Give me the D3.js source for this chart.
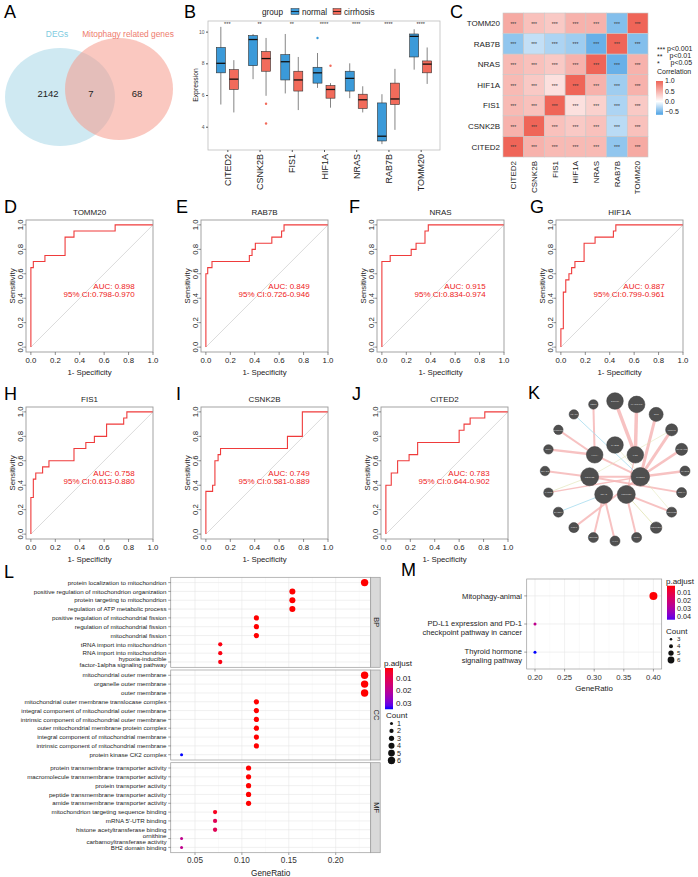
<!DOCTYPE html>
<html>
<head>
<meta charset="utf-8">
<script src="https://cdn.jsdelivr.net/npm/d3@7"></script>
<style>
  body { margin: 0; background: #fff; }
  svg { display: block; font-family: "Liberation Sans", Arial, sans-serif; }
</style>
</head>
<body>
<div id="fig"></div>
<script>
// ---------------- data ----------------
const vennLabels = ["DEGs", "Mitophagy related genes"];
const vennCounts = [2142, 7, 68];

const genes = ["CITED2", "CSNK2B", "FIS1", "HIF1A", "NRAS", "RAB7B", "TOMM20"];
const groups = ["normal", "cirrhosis"];
// lower whisker, q1, median, q3, upper whisker
const normalBox = [
  [5.4, 7.4, 8.0, 9.0, 10.3],
  [7.0, 7.85, 9.5, 9.75, 9.85],
  [6.1, 6.95, 8.1, 8.55, 9.85],
  [6.45, 6.75, 7.4, 7.75, 8.65],
  [5.8, 6.25, 7.05, 7.5, 8.0],
  [2.9, 3.1, 3.4, 5.5, 6.05],
  [7.6, 8.4, 9.7, 9.85, 10.15]
];
const cirrhosisBox = [
  [4.9, 6.35, 7.0, 7.6, 8.2],
  [5.95, 7.5, 8.3, 8.75, 9.6],
  [5.05, 6.25, 6.95, 7.5, 8.4],
  [5.2, 5.8, 6.35, 6.6, 6.75],
  [4.9, 5.15, 5.7, 6.05, 6.55],
  [3.8, 5.4, 5.75, 6.75, 7.65],
  [6.7, 7.4, 7.95, 8.15, 9.0]
];
const normalOut = [[], [], [], [9.6], [], [], []];
const cirrhosisOut = [[], [5.45, 4.2], [], [7.85], [], [], []];
const boxSignif = ["***", "**", "**", "****", "****", "****", "****"];
const boxTicks = [4, 6, 8, 10];

const corRows = ["TOMM20", "RAB7B", "NRAS", "HIF1A", "FIS1", "CSNK2B", "CITED2"];
const corCols = ["CITED2", "CSNK2B", "FIS1", "HIF1A", "NRAS", "RAB7B", "TOMM20"];
const corValues = [
  [0.55, 0.40, 0.35, 0.50, 0.50, -0.45, 1.00],
  [-0.40, -0.22, -0.30, -0.35, -0.55, 1.00, -0.45],
  [0.45, 0.40, 0.35, 0.50, 1.00, -0.55, 0.50],
  [0.45, 0.35, 0.20, 1.00, 0.50, -0.35, 0.50],
  [0.45, 0.40, 1.00, 0.20, 0.30, -0.30, 0.35],
  [0.50, 1.00, 0.40, 0.35, 0.40, -0.25, 0.40],
  [1.00, 0.50, 0.45, 0.45, 0.45, -0.40, 0.55]
];
const corMark = "***";
const corLegendStars = ["***", "**", "*"];
const corLegendText = ["p<0.001", "p<0.01", "p<0.05"];
const corTicks = [1.0, 0.5, 0.0, -0.5];

const rocGenes = ["TOMM20", "RAB7B", "NRAS", "HIF1A", "FIS1", "CSNK2B", "CITED2"];
const rocTags = ["D", "E", "F", "G", "H", "I", "J"];
const rocAuc = ["0.898", "0.849", "0.915", "0.887", "0.758", "0.749", "0.783"];
const rocCi = ["0.798-0.970", "0.726-0.946", "0.834-0.974", "0.799-0.961", "0.613-0.880", "0.581-0.889", "0.644-0.902"];
// [1 - specificity, sensitivity] at each step
const rocPoints = [
  [[0,0],[0,0.65],[0.02,0.70],[0.115,0.75],[0.28,0.90],[0.353,0.95],[0.69,1],[1,1]],
  [[0,0],[0,0.60],[0.015,0.65],[0.05,0.70],[0.356,0.75],[0.378,0.80],[0.405,0.85],[0.54,0.90],[0.62,0.95],[0.64,1],[1,1]],
  [[0,0],[0,0.70],[0.068,0.75],[0.24,0.80],[0.28,0.85],[0.353,0.95],[0.38,1],[1,1]],
  [[0,0],[0,0.15],[0.02,0.45],[0.04,0.55],[0.066,0.60],[0.088,0.65],[0.115,0.70],[0.19,0.85],[0.28,0.90],[0.43,0.95],[0.45,1],[1,1]],
  [[0,0],[0,0.30],[0.02,0.45],[0.04,0.50],[0.096,0.55],[0.148,0.60],[0.353,0.70],[0.45,0.75],[0.52,0.80],[0.62,0.90],[0.76,0.95],[0.786,1],[1,1]],
  [[0,0],[0,0.35],[0.055,0.40],[0.074,0.60],[0.10,0.65],[0.12,0.70],[0.668,0.80],[0.79,1],[1,1]],
  [[0,0],[0,0.40],[0.044,0.50],[0.096,0.60],[0.19,0.65],[0.26,0.75],[0.60,0.85],[0.64,0.90],[0.69,0.95],[0.81,1],[1,1]]
];
const rocTicks = [0, 0.2, 0.4, 0.6, 0.8, 1.0];

const hubGenes = ["RAB7B", "FIS1", "CITED2", "TOMM20", "NRAS", "CSNK2B", "HIF1A"];
const hubScore = [0.80, 0.80, 1.00, 0.94, 0.94, 0.94, 0.80];
const ringGenes = ["DNM1L", "MARCHF5", "OTC", "LRRK2", "ARHGAP26", "RHOT2", "ZNF44", "TOMM22", "TOMM20L", "PLD6",
                   "VHLL", "EGLN3", "UCP1", "DHODH", "LARS2", "SMAD3", "RPL4", "TP53INP1", "HDAC6", "NBR1"];
const ringScore = [0.80, 0.80, 0.57, 0.42, 0.42, 0.29, 0.29, 0.29, 0.38, 0.29,
                   0.29, 0.29, 0.29, 0.29, 0.26, 0.26, 0.26, 0.26, 0.26, 0.26];
// source, target, kind, weight
const netEdges = [
  ["FIS1","DNM1L","co",3.5], ["FIS1","MARCHF5","co",3.5], ["CITED2","OTC","co",3], ["CITED2","LRRK2","co",3],
  ["CITED2","ARHGAP26","co",2.5], ["CITED2","RHOT2","co",2.5], ["CSNK2B","ZNF44","co",2], ["TOMM20","TOMM22","co",2],
  ["TOMM20","PLD6","co",2], ["NRAS","VHLL","co",2], ["NRAS","EGLN3","co",2], ["CITED2","UCP1","co",2],
  ["CSNK2B","SMAD3","co",2], ["HIF1A","RPL4","co",2.5], ["HIF1A","TP53INP1","co",2], ["HIF1A","NBR1","co",2],
  ["HIF1A","CITED2","co",2], ["CSNK2B","CITED2","co",2], ["CITED2","LARS2","co",1.5], ["FIS1","TOMM20","co",1.2],
  ["HDAC6","CITED2","pw",0.8], ["NRAS","DHODH","pw",0.8],
  ["TOMM20","TOMM20L","ph",0.8], ["CSNK2B","LARS2","ph",0.6], ["RAB7B","TOMM22","ph",0.5], ["LRRK2","CSNK2B","ph",0.5]
];

const bpTerms = ["protein localization to mitochondrion", "positive regulation of mitochondrion organization",
  "protein targeting to mitochondrion", "regulation of ATP metabolic process",
  "positive regulation of mitochondrial fission", "regulation of mitochondrial fission", "mitochondrial fission",
  "tRNA import into mitochondrion", "RNA import into mitochondrion", "hypoxia-inducible\nfactor-1alpha signaling pathway"];
const bpRatio = [0.2308, 0.1538, 0.1538, 0.1538, 0.1154, 0.1154, 0.1154, 0.0769, 0.0769, 0.0769];
const bpCount = [6, 4, 4, 4, 3, 3, 3, 2, 2, 2];
const bpPadj = [0.002, 0.002, 0.002, 0.002, 0.002, 0.002, 0.002, 0.003, 0.003, 0.003];

const ccTerms = ["mitochondrial outer membrane", "organelle outer membrane", "outer membrane",
  "mitochondrial outer membrane translocase complex", "integral component of mitochondrial outer membrane",
  "intrinsic component of mitochondrial outer membrane", "outer mitochondrial membrane protein complex",
  "integral component of mitochondrial membrane", "intrinsic component of mitochondrial membrane", "protein kinase CK2 complex"];
const ccRatio = [0.2308, 0.2308, 0.2308, 0.1154, 0.1154, 0.1154, 0.1154, 0.1154, 0.1154, 0.0357];
const ccCount = [6, 6, 6, 3, 3, 3, 3, 3, 3, 1];
const ccPadj = [0.002, 0.002, 0.002, 0.002, 0.002, 0.002, 0.002, 0.002, 0.002, 0.035];

const mfTerms = ["protein transmembrane transporter activity", "macromolecule transmembrane transporter activity",
  "protein transporter activity", "peptide transmembrane transporter activity", "amide transmembrane transporter activity",
  "mitochondrion targeting sequence binding", "mRNA 5'-UTR binding", "histone acetyltransferase binding",
  "ornithine\ncarbamoyltransferase activity", "BH2 domain binding"];
const mfRatio = [0.1071, 0.1071, 0.1071, 0.1071, 0.1071, 0.0714, 0.0714, 0.0714, 0.0357, 0.0357];
const mfCount = [3, 3, 3, 3, 3, 2, 2, 2, 1, 1];
const mfPadj = [0.002, 0.002, 0.002, 0.002, 0.002, 0.004, 0.011, 0.011, 0.019, 0.019];

const goTicks = [0.05, 0.10, 0.15, 0.20];
const goLegendP = [0.01, 0.02, 0.03];
const goLegendCount = [1, 2, 3, 4, 5, 6];

const keggTerms = ["Mitophagy-animal", "PD-L1 expression and PD-1\ncheckpoint pathway in cancer", "Thyroid hormone\nsignaling pathway"];
const keggRatio = [0.40, 0.20, 0.20];
const keggCount = [6, 3, 3];
const keggPadj = [0.002, 0.024, 0.045];
const keggTicks = [0.20, 0.25, 0.30, 0.35, 0.40];
const keggLegendP = [0.01, 0.02, 0.03, 0.04];
const keggLegendCount = [3, 4, 5, 6];

// ---------------- svg ----------------
const svg = d3.select("#fig").append("svg").attr("width", 698).attr("height", 877);
svg.append("rect").attr("width", 698).attr("height", 877).attr("fill", "#fff");
const defs = svg.append("defs");

function tag(t, x, y) {
  svg.append("text").attr("x", x).attr("y", y).attr("font-size", 18).attr("fill", "#000").text(t);
}
function lines(sel, str, x, y, lh) {
  str.split("\n").forEach((s, i) => sel.append("tspan").attr("x", x).attr("y", y + i * lh).text(s));
}

// ---------------- A: venn ----------------
tag("A", 4, 18);
const gA = svg.append("g");
gA.append("ellipse").attr("cx", 60).attr("cy", 97).attr("rx", 55).attr("ry", 49)
  .attr("fill", "#9fd3e6").attr("fill-opacity", 0.5);
gA.append("ellipse").attr("cx", 119).attr("cy", 89).attr("rx", 54).attr("ry", 51)
  .attr("fill", "#f59a8c").attr("fill-opacity", 0.55);
gA.append("text").attr("x", 57).attr("y", 37).attr("text-anchor", "middle").attr("font-size", 8.4)
  .attr("fill", "#7ecbe0").text(vennLabels[0]);
gA.append("text").attr("x", 128).attr("y", 37).attr("text-anchor", "middle").attr("font-size", 8.4)
  .attr("fill", "#ee7b6d").text(vennLabels[1]);
[48, 91, 137].forEach((x, i) => {
  gA.append("text").attr("x", x).attr("y", 96.5).attr("text-anchor", "middle").attr("font-size", 9.5)
    .attr("fill", "#222").text(vennCounts[i]);
});

// ---------------- B: boxplots ----------------
tag("B", 184, 18);
const gB = svg.append("g");
const bx = d3.scalePoint().domain(genes).range([208, 440]).padding(0.6);
const bOff = d3.scalePoint().domain(groups).range([-6.5, 6.5]);
const by = d3.scaleLinear().domain([2.53, 10.67]).range([150, 21]);
const bColor = d3.scaleOrdinal().domain(groups).range(["#3b9ad9", "#f26b5b"]);

gB.append("rect").attr("x", 208).attr("y", 21).attr("width", 232).attr("height", 129)
  .attr("fill", "#fff").attr("stroke", "#bdbdbd").attr("stroke-width", 0.8);

const boxData = [];
genes.forEach((g, i) => {
  boxData.push({ gene: g, group: "normal", s: normalBox[i], out: normalOut[i] });
  boxData.push({ gene: g, group: "cirrhosis", s: cirrhosisBox[i], out: cirrhosisOut[i] });
});
const bw = 9;
const bg = gB.selectAll("g.box").data(boxData).join("g")
  .attr("transform", d => `translate(${bx(d.gene) + bOff(d.group)},0)`);
bg.append("line").attr("y1", d => by(d.s[0])).attr("y2", d => by(d.s[4]))
  .attr("stroke", "#333").attr("stroke-width", 0.6);
bg.append("rect").attr("x", -bw / 2).attr("width", bw)
  .attr("y", d => by(d.s[3])).attr("height", d => by(d.s[1]) - by(d.s[3]))
  .attr("fill", d => bColor(d.group)).attr("stroke", "#333").attr("stroke-width", 0.6);
bg.append("line").attr("x1", -bw / 2).attr("x2", bw / 2)
  .attr("y1", d => by(d.s[2])).attr("y2", d => by(d.s[2]))
  .attr("stroke", "#111").attr("stroke-width", 1.3);
bg.selectAll("circle").data(d => d.out.map(v => ({ v, group: d.group }))).join("circle")
  .attr("r", 1.2).attr("cy", d => by(d.v)).attr("fill", d => bColor(d.group));

gB.selectAll("text.sig").data(genes).join("text")
  .attr("x", d => bx(d)).attr("y", 26).attr("text-anchor", "middle")
  .attr("font-size", 5.5).attr("fill", "#333").text((d, i) => boxSignif[i]);

gB.append("g").attr("transform", "translate(208,0)")
  .call(d3.axisLeft(by).tickValues(boxTicks).tickSize(2).tickPadding(1.5))
  .attr("font-family", null).attr("font-size", null)
  .call(g => g.select(".domain").remove())
  .call(g => g.selectAll("line").attr("stroke", "#555"))
  .call(g => g.selectAll("text").attr("font-size", 5).attr("fill", "#555"));

gB.append("g").attr("transform", "translate(0,150)")
  .call(d3.axisBottom(bx).tickSize(2))
  .attr("font-family", null).attr("font-size", null)
  .call(g => g.select(".domain").remove())
  .call(g => g.selectAll("line").attr("stroke", "#555"))
  .call(g => g.selectAll("text").attr("font-size", 9).attr("fill", "#222")
    .attr("y", 0).attr("x", -4).attr("dy", "0.35em")
    .attr("transform", "rotate(-90)").attr("text-anchor", "end"));

gB.append("text").attr("transform", "translate(198,85) rotate(-90)").attr("text-anchor", "middle")
  .attr("font-size", 6.8).attr("fill", "#222").text("Expression");

gB.append("text").attr("x", 262).attr("y", 15).attr("font-size", 8.2).attr("fill", "#222").text("group");
const bLeg = gB.selectAll("g.leg").data(groups).join("g")
  .attr("transform", (d, i) => `translate(${i === 0 ? 291 : 333},8.5)`);
bLeg.append("rect").attr("width", 8).attr("height", 6).attr("fill", d => bColor(d))
  .attr("stroke", "#333").attr("stroke-width", 0.5);
bLeg.append("line").attr("x1", 0).attr("x2", 8).attr("y1", 3).attr("y2", 3).attr("stroke", "#111").attr("stroke-width", 0.8);
bLeg.append("text").attr("x", 11).attr("y", 6.5).attr("font-size", 8.2).attr("fill", "#222").text(d => d);

// ---------------- C: correlation heatmap ----------------
tag("C", 450, 18);
const gC = svg.append("g");
const cx = d3.scaleBand().domain(corCols).range([503, 648]);
const cy = d3.scaleBand().domain(corRows).range([13, 157]);
const cColor = d3.scaleLinear().domain([-0.6, 0, 1]).range(["#5aa9e6", "#ffffff", "#ef6558"]);
const cells = [];
corRows.forEach((r, i) => corCols.forEach((c, j) => cells.push({ r, c, v: corValues[i][j] })));
gC.selectAll("rect.cell").data(cells).join("rect")
  .attr("x", d => cx(d.c)).attr("y", d => cy(d.r))
  .attr("width", cx.bandwidth()).attr("height", cy.bandwidth())
  .attr("fill", d => cColor(d.v)).attr("stroke", "#c8c8c8").attr("stroke-width", 0.6);
gC.selectAll("text.mark").data(cells).join("text")
  .attr("x", d => cx(d.c) + cx.bandwidth() / 2).attr("y", d => cy(d.r) + cy.bandwidth() / 2 + 2.5)
  .attr("text-anchor", "middle").attr("font-size", 5).attr("fill", "#333").text(corMark);
gC.selectAll("text.row").data(corRows).join("text")
  .attr("x", 500).attr("y", d => cy(d) + cy.bandwidth() / 2).attr("dy", "0.35em")
  .attr("text-anchor", "end").attr("font-size", 8).attr("fill", "#222").text(d => d);
gC.selectAll("text.col").data(corCols).join("text")
  .attr("transform", d => `translate(${cx(d) + cx.bandwidth() / 2},161) rotate(-90)`)
  .attr("dy", "0.35em").attr("text-anchor", "end").attr("font-size", 8).attr("fill", "#222").text(d => d);

corLegendStars.forEach((s, i) => {
  gC.append("text").attr("x", 657).attr("y", 52 + i * 7.2).attr("font-size", 7).attr("fill", "#222").text(s);
  gC.append("text").attr("x", [667, 669.5, 670.5][i]).attr("y", 51 + i * 7.2).attr("font-size", 7).attr("fill", "#222").text(corLegendText[i]);
});
gC.append("text").attr("x", 657).attr("y", 74).attr("font-size", 7).attr("fill", "#222").text("Correlation");
const cBarY = d3.scaleLinear().domain([1, -0.5]).range([81, 111.7]);
const grad = defs.append("linearGradient").attr("id", "corGrad")
  .attr("x1", 0).attr("x2", 0).attr("y1", 0).attr("y2", 1);
d3.range(1.0, -0.66, -0.05).forEach((v, i, arr) => {
  grad.append("stop").attr("offset", i / (arr.length - 1)).attr("stop-color", cColor(v));
});
gC.append("rect").attr("x", 656).attr("y", cBarY(1.0)).attr("width", 7)
  .attr("height", cBarY(-0.65) - cBarY(1.0)).attr("fill", "url(#corGrad)");
gC.selectAll("text.ctick").data(corTicks).join("text")
  .attr("x", 665).attr("y", d => cBarY(d)).attr("dy", "0.35em")
  .attr("font-size", 7).attr("fill", "#222").text(d => d3.format(".1f")(d));

// ---------------- D-J: ROC curves ----------------
const rocFrames = [[26, 220], [201, 220], [377, 220], [556, 220], [26, 407], [201, 407], [381, 407]];
const rocTagX = [4, 176, 349, 530, 4, 176, 352];
rocGenes.forEach((gene, i) => {
  const [fx, fy] = rocFrames[i];
  const x = d3.scaleLinear().domain([-0.04, 1]).range([fx, fx + 127]);
  const y = d3.scaleLinear().domain([-0.04, 1.04]).range([fy + 132, fy]);
  const g = svg.append("g");
  tag(rocTags[i], rocTagX[i], fy - 7);
  g.append("line").attr("x1", x(0)).attr("y1", y(0)).attr("x2", x(1)).attr("y2", y(1))
    .attr("stroke", "#d2d2d2").attr("stroke-width", 0.8);
  g.append("path").datum(rocPoints[i])
    .attr("d", d3.line().x(d => x(d[0])).y(d => y(d[1])).curve(d3.curveStepAfter))
    .attr("fill", "none").attr("stroke", "#ef3b3b").attr("stroke-width", 1.1);
  g.append("rect").attr("x", fx).attr("y", fy).attr("width", 127).attr("height", 132)
    .attr("fill", "none").attr("stroke", "#9a9a9a").attr("stroke-width", 0.9);
  rocTicks.forEach(t => {
    g.append("line").attr("x1", x(t)).attr("x2", x(t)).attr("y1", fy + 132).attr("y2", fy + 135)
      .attr("stroke", "#444").attr("stroke-width", 0.6);
    g.append("text").attr("x", x(t)).attr("y", fy + 143).attr("text-anchor", "middle")
      .attr("font-size", 7.8).attr("fill", "#222").text(d3.format(".1f")(t));
    g.append("line").attr("x1", fx - 2.5).attr("x2", fx).attr("y1", y(t)).attr("y2", y(t))
      .attr("stroke", "#444").attr("stroke-width", 0.6);
    g.append("text").attr("transform", `translate(${fx - 3.5},${y(t)}) rotate(-90)`)
      .attr("text-anchor", "middle").attr("font-size", 7.8).attr("fill", "#222").text(d3.format(".1f")(t));
  });
  g.append("text").attr("x", fx + 63.5).attr("y", fy - 5.5).attr("text-anchor", "middle")
    .attr("font-size", 8).attr("fill", "#222").text(gene);
  g.append("text").attr("x", fx + 63.5).attr("y", fy + 154.5).attr("text-anchor", "middle")
    .attr("font-size", 7.8).attr("fill", "#222").text("1- Specificity");
  g.append("text").attr("transform", `translate(${fx - 11},${y(0.5)}) rotate(-90)`)
    .attr("text-anchor", "middle").attr("font-size", 7.8).attr("fill", "#222").text("Sensitivity");
  g.append("text").attr("x", x(0.85)).attr("y", y(0.5) + 2.5).attr("text-anchor", "end")
    .attr("font-size", 8).attr("fill", "#ee2020").text("AUC: " + rocAuc[i]);
  g.append("text").attr("x", x(0.85)).attr("y", y(0.43) + 2.5).attr("text-anchor", "end")
    .attr("font-size", 8).attr("fill", "#ee2020").text("95% CI:" + rocCi[i]);
});

// ---------------- K: network ----------------
tag("K", 528, 399);
const gK = svg.append("g").attr("transform", "translate(615,471)");
const ringAngle = d3.scaleLinear().domain([0, ringGenes.length]).range([-Math.PI / 2, 1.5 * Math.PI]);
const hubAngle = d3.scaleLinear().domain([0, hubGenes.length]).range([-Math.PI / 2, 1.5 * Math.PI]);
const nodeR = d3.scaleSqrt().domain([0, 1]).range([0, 9.3]);
const nodes = new Map();
ringGenes.forEach((n, i) => nodes.set(n, { n, s: ringScore[i], x: 70 * Math.cos(ringAngle(i)), y: 70 * Math.sin(ringAngle(i)) }));
hubGenes.forEach((n, i) => nodes.set(n, { n, s: hubScore[i], x: 26 * Math.cos(hubAngle(i)), y: 26 * Math.sin(hubAngle(i)) }));
const edgeColor = { co: "#f5b3b3", pw: "#a6dcef", ph: "#dfe3b0" };
gK.selectAll("line").data(netEdges).join("line")
  .attr("x1", d => nodes.get(d[0]).x).attr("y1", d => nodes.get(d[0]).y)
  .attr("x2", d => nodes.get(d[1]).x).attr("y2", d => nodes.get(d[1]).y)
  .attr("stroke", d => edgeColor[d[2]]).attr("stroke-width", d => d[3])
  .attr("stroke-opacity", d => d[2] === "co" ? 0.8 : 1);
const nodeG = gK.selectAll("g.node").data([...nodes.values()]).join("g")
  .attr("transform", d => `translate(${d.x},${d.y})`);
nodeG.append("circle").attr("r", d => nodeR(d.s)).attr("fill", "#4f4f4f").attr("stroke", "#3d3d3d").attr("stroke-width", 0.5);
nodeG.append("text").attr("text-anchor", "middle").attr("dy", "0.35em").attr("font-size", 2.4)
  .attr("fill", "#ddd").text(d => d.n);

// ---------------- L: GO dotplot ----------------
tag("L", 4, 578);
const gL = svg.append("g");
const lx = d3.scaleLinear().domain([0.0241, 0.2373]).range([170.7, 370.7]);
const lColor = d3.scaleLinear().domain([0.002, 0.035]).range(["#ff0000", "#0000ff"]).interpolate(d3.interpolateLab);
const lSize = d3.scaleSqrt().domain([0, 6]).range([0, 3.7]);
const facets = [
  { name: "BP", terms: bpTerms, ratio: bpRatio, count: bpCount, padj: bpPadj, top: 577.3 },
  { name: "CC", terms: ccTerms, ratio: ccRatio, count: ccCount, padj: ccPadj, top: 670 },
  { name: "MF", terms: mfTerms, ratio: mfRatio, count: mfCount, padj: mfPadj, top: 762.7 }
];
facets.forEach(f => {
  const y = d3.scalePoint().domain(f.terms).range([f.top, f.top + 90]).padding(0.6);
  const g = gL.append("g");
  g.append("rect").attr("x", 170.7).attr("y", f.top).attr("width", 200).attr("height", 90).attr("fill", "#fff");
  [0.025, 0.075, 0.125, 0.175, 0.225].forEach(t => g.append("line").attr("x1", lx(t)).attr("x2", lx(t))
    .attr("y1", f.top).attr("y2", f.top + 90).attr("stroke", "#f2f2f2").attr("stroke-width", 0.4));
  goTicks.forEach(t => g.append("line").attr("x1", lx(t)).attr("x2", lx(t))
    .attr("y1", f.top).attr("y2", f.top + 90).attr("stroke", "#e6e6e6").attr("stroke-width", 0.6));
  f.terms.forEach(t => g.append("line").attr("x1", 170.7).attr("x2", 370.7).attr("y1", y(t)).attr("y2", y(t))
    .attr("stroke", "#e6e6e6").attr("stroke-width", 0.6));
  g.append("rect").attr("x", 170.7).attr("y", f.top).attr("width", 200).attr("height", 90)
    .attr("fill", "none").attr("stroke", "#9a9a9a").attr("stroke-width", 0.7);
  g.append("rect").attr("x", 370.7).attr("y", f.top).attr("width", 9.5).attr("height", 90)
    .attr("fill", "#d9d9d9").attr("stroke", "#9a9a9a").attr("stroke-width", 0.7);
  g.append("text").attr("transform", `translate(${373.5},${f.top + 45}) rotate(90)`)
    .attr("text-anchor", "middle").attr("font-size", 7.5).attr("fill", "#222").text(f.name);
  f.terms.forEach((t, i) => {
    g.append("line").attr("x1", 168.2).attr("x2", 170.7).attr("y1", y(t)).attr("y2", y(t))
      .attr("stroke", "#444").attr("stroke-width", 0.5);
    const n = t.split("\n").length;
    const tx = g.append("text").attr("text-anchor", "end").attr("font-size", 6.2).attr("fill", "#222");
    lines(tx, t, 166.5, y(t) + 2.2 - (n - 1) * 3.2, 6.4);
    g.append("circle").attr("cx", lx(f.ratio[i])).attr("cy", y(t))
      .attr("r", lSize(f.count[i])).attr("fill", lColor(f.padj[i]));
  });
});
goTicks.forEach(t => {
  gL.append("line").attr("x1", lx(t)).attr("x2", lx(t)).attr("y1", 852.7).attr("y2", 855)
    .attr("stroke", "#444").attr("stroke-width", 0.5);
  gL.append("text").attr("x", lx(t)).attr("y", 862.5).attr("text-anchor", "middle")
    .attr("font-size", 8.2).attr("fill", "#333").text(d3.format(".2f")(t));
});
gL.append("text").attr("x", 270.7).attr("y", 876).attr("text-anchor", "middle")
  .attr("font-size", 8.2).attr("fill", "#222").text("GeneRatio");

// L legends
const lBarY = d3.scaleLinear().domain([0.01, 0.03]).range([678, 703]);
const gradL = defs.append("linearGradient").attr("id", "goGrad")
  .attr("x1", 0).attr("x2", 0).attr("y1", 0).attr("y2", 1);
d3.range(0.002, 0.0351, 0.003).forEach((v, i, arr) => {
  gradL.append("stop").attr("offset", i / (arr.length - 1)).attr("stop-color", lColor(v));
});
gL.append("text").attr("x", 384).attr("y", 666).attr("font-size", 8).attr("fill", "#222").text("p.adjust");
gL.append("rect").attr("x", 385).attr("y", lBarY(0.002)).attr("width", 8)
  .attr("height", lBarY(0.035) - lBarY(0.002)).attr("fill", "url(#goGrad)");
goLegendP.forEach(p => gL.append("text").attr("x", 396).attr("y", lBarY(p)).attr("dy", "0.35em")
  .attr("font-size", 8).attr("fill", "#222").text(d3.format(".2f")(p)));
gL.append("text").attr("x", 386).attr("y", 718).attr("font-size", 8).attr("fill", "#222").text("Count");
goLegendCount.forEach((c, i) => {
  const yy = 723.5 + i * 7.4;
  gL.append("circle").attr("cx", 391.5).attr("cy", yy).attr("r", lSize(c)).attr("fill", "#111");
  gL.append("text").attr("x", 397).attr("y", yy).attr("dy", "0.35em").attr("font-size", 7.2).attr("fill", "#222").text(c);
});

// ---------------- M: KEGG dotplot ----------------
tag("M", 401, 576);
const gM = svg.append("g");
const mx = d3.scaleLinear().domain([0.186, 0.414]).range([526.7, 661.7]);
const my = d3.scalePoint().domain(keggTerms).range([579, 669]).padding(0.6);
const mColor = d3.scaleLinear().domain([0.0017, 0.0447]).range(["#ff0000", "#0000ff"]).interpolate(d3.interpolateLab);
const mSize = d3.scaleLinear().domain([3, 6]).range([1.5, 4]);
gM.append("rect").attr("x", 526.7).attr("y", 579).attr("width", 135).attr("height", 90).attr("fill", "#fff");
[0.225, 0.275, 0.325, 0.375].forEach(t => gM.append("line").attr("x1", mx(t)).attr("x2", mx(t))
  .attr("y1", 579).attr("y2", 669).attr("stroke", "#f2f2f2").attr("stroke-width", 0.4));
keggTicks.forEach(t => gM.append("line").attr("x1", mx(t)).attr("x2", mx(t))
  .attr("y1", 579).attr("y2", 669).attr("stroke", "#e6e6e6").attr("stroke-width", 0.6));
keggTerms.forEach(t => gM.append("line").attr("x1", 526.7).attr("x2", 661.7).attr("y1", my(t)).attr("y2", my(t))
  .attr("stroke", "#e6e6e6").attr("stroke-width", 0.6));
gM.append("rect").attr("x", 526.7).attr("y", 579).attr("width", 135).attr("height", 90)
  .attr("fill", "none").attr("stroke", "#9a9a9a").attr("stroke-width", 0.7);
keggTerms.forEach((t, i) => {
  gM.append("line").attr("x1", 524.2).attr("x2", 526.7).attr("y1", my(t)).attr("y2", my(t))
    .attr("stroke", "#444").attr("stroke-width", 0.5);
  const n = t.split("\n").length;
  const tx = gM.append("text").attr("text-anchor", "end").attr("font-size", 7.6).attr("fill", "#222");
  lines(tx, t, 522, my(t) + (n > 1 ? 1.5 : 2.7), 9.5);
  gM.append("circle").attr("cx", mx(keggRatio[i])).attr("cy", my(t))
    .attr("r", mSize(keggCount[i])).attr("fill", mColor(keggPadj[i]));
});
keggTicks.forEach(t => {
  gM.append("line").attr("x1", mx(t)).attr("x2", mx(t)).attr("y1", 669).attr("y2", 671.5)
    .attr("stroke", "#444").attr("stroke-width", 0.5);
  gM.append("text").attr("x", mx(t)).attr("y", 680).attr("text-anchor", "middle")
    .attr("font-size", 7.7).attr("fill", "#333").text(d3.format(".2f")(t));
});
gM.append("text").attr("x", 594).attr("y", 690.5).attr("text-anchor", "middle")
  .attr("font-size", 7.9).attr("fill", "#222").text("GeneRatio");

const mBarY = d3.scaleLinear().domain([0.01, 0.04]).range([592.3, 616]);
const gradM = defs.append("linearGradient").attr("id", "keggGrad")
  .attr("x1", 0).attr("x2", 0).attr("y1", 0).attr("y2", 1);
d3.range(0.0017, 0.0448, 0.004).forEach((v, i, arr) => {
  gradM.append("stop").attr("offset", i / (arr.length - 1)).attr("stop-color", mColor(v));
});
gM.append("text").attr("x", 666).attr("y", 584).attr("font-size", 8).attr("fill", "#222").text("p.adjust");
gM.append("rect").attr("x", 667).attr("y", mBarY(0.0017)).attr("width", 8)
  .attr("height", mBarY(0.0447) - mBarY(0.0017)).attr("fill", "url(#keggGrad)");
keggLegendP.forEach(p => gM.append("text").attr("x", 677).attr("y", mBarY(p)).attr("dy", "0.35em")
  .attr("font-size", 7.2).attr("fill", "#222").text(d3.format(".2f")(p)));
gM.append("text").attr("x", 666).attr("y", 634).attr("font-size", 8).attr("fill", "#222").text("Count");
keggLegendCount.forEach((c, i) => {
  const yy = 639.3 + i * 6.9;
  gM.append("circle").attr("cx", 671).attr("cy", yy).attr("r", mSize(c) * 0.85).attr("fill", "#111");
  gM.append("text").attr("x", 677).attr("y", yy).attr("dy", "0.35em").attr("font-size", 6.2).attr("fill", "#222").text(c);
});
</script>
</body>
</html>
